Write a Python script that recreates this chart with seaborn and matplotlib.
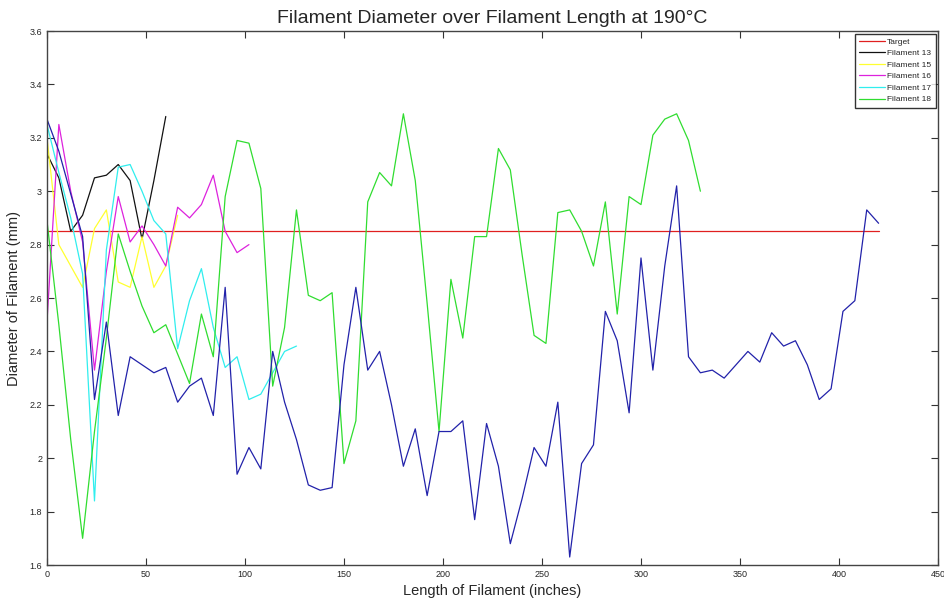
import matplotlib
matplotlib.use("Agg")
import matplotlib.pyplot as plt
import numpy as np
import pandas as pd
import seaborn as sns

sns.set_style("white")
plt.rcParams['font.family'] = ['Liberation Sans', 'DejaVu Sans']

# measurements every 6 inches along the filament
step = 6
target = 2.85
target_len = [0, 420]

fil13 = [3.14, 3.05, 2.85, 2.91, 3.05, 3.06, 3.10, 3.04, 2.82, 3.04, 3.28]
fil15 = [3.20, 2.80, 2.72, 2.64, 2.86, 2.93, 2.66, 2.64, 2.83, 2.64, 2.72, 2.91]
fil16 = [2.51, 3.25, 3.00, 2.81, 2.33, 2.70, 2.98, 2.81, 2.87, 2.80, 2.72, 2.94,
         2.90, 2.95, 3.06, 2.85, 2.77, 2.80]
fil17 = [3.25, 3.07, 2.90, 2.69, 1.84, 2.78, 3.09, 3.10, 3.00, 2.89, 2.84, 2.41,
         2.59, 2.71, 2.49, 2.34, 2.38, 2.22, 2.24, 2.32, 2.40, 2.42]
fil18 = [2.89, 2.50, 2.07, 1.70, 2.10, 2.45, 2.84, 2.70, 2.57, 2.47, 2.50, 2.39,
         2.28, 2.54, 2.38, 2.98, 3.19, 3.18, 3.01, 2.27, 2.49, 2.93, 2.61, 2.59,
         2.62, 1.98, 2.14, 2.96, 3.07, 3.02, 3.29, 3.04, 2.58, 2.10, 2.67, 2.45,
         2.83, 2.83, 3.16, 3.08, 2.76, 2.46, 2.43, 2.92, 2.93, 2.85, 2.72, 2.96,
         2.54, 2.98, 2.95, 3.21, 3.27, 3.29, 3.19, 3.00]
# blue trace, not listed in the legend
fil_extra = [3.27, 3.15, 2.99, 2.83, 2.22, 2.51, 2.16, 2.38, 2.35, 2.32, 2.34, 2.21,
             2.27, 2.30, 2.16, 2.64, 1.94, 2.04, 1.96, 2.40, 2.21, 2.07, 1.90, 1.88,
             1.89, 2.35, 2.64, 2.33, 2.40, 2.20, 1.97, 2.11, 1.86, 2.10, 2.10, 2.14,
             1.77, 2.13, 1.97, 1.68, 1.85, 2.04, 1.97, 2.21, 1.63, 1.98, 2.05, 2.55,
             2.44, 2.17, 2.75, 2.33, 2.72, 3.02, 2.38, 2.32, 2.33, 2.30, 2.35, 2.40,
             2.36, 2.47, 2.42, 2.44, 2.35, 2.22, 2.26, 2.55, 2.59, 2.93, 2.88]

names = ['Target', 'Filament 13', 'Filament 15', 'Filament 16', 'Filament 17', 'Filament 18']
colors = ['#e02020', '#111111', '#ffff30', '#dd22dd', '#30eeee', '#30dd30']
blue = '#2222aa'

frames = [pd.DataFrame({'length': target_len, 'diameter': [target, target], 'series': 'Target'})]
for name, vals in zip(names[1:], [fil13, fil15, fil16, fil17, fil18]):
    frames.append(pd.DataFrame({'length': np.arange(len(vals)) * step,
                                'diameter': vals, 'series': name}))
df = pd.concat(frames, ignore_index=True)

fig, ax = plt.subplots(figsize=(9.45, 6.0), dpi=100)
fig.subplots_adjust(left=0.0497, right=0.9926, bottom=0.0583, top=0.9483)

sns.lineplot(data=df, x='length', y='diameter', hue='series', hue_order=names,
             palette=dict(zip(names, colors)), estimator=None, sort=False,
             lw=0.9, ax=ax)
sns.lineplot(x=np.arange(len(fil_extra)) * step, y=fil_extra, color=blue,
             estimator=None, sort=False, lw=0.9, legend=False, ax=ax)

ax.set_xlim(0, 450)
ax.set_ylim(1.6, 3.6)
ax.set_xticks(np.arange(0, 451, 50))
ax.set_yticks(np.arange(1.6, 3.61, 0.2))
ax.yaxis.set_major_formatter(matplotlib.ticker.FormatStrFormatter('%g'))
ax.tick_params(direction='in', length=5, width=0.8, labelsize=6.5,
               top=True, right=True, bottom=True, left=True, color='#333333')
for sp in ax.spines.values():
    sp.set_color('#444444')
    sp.set_linewidth(1.0)

ax.set_title('Filament Diameter over Filament Length at 190°C', fontsize=14, pad=6)
ax.set_xlabel('Length of Filament (inches)', fontsize=10.5, labelpad=4)
ax.set_ylabel('Diameter of Filament (mm)', fontsize=10.5, labelpad=6)

handles, labels = ax.get_legend_handles_labels()
ax.legend(handles, labels, loc='upper right', fontsize=6, frameon=True,
          fancybox=False, edgecolor='black', handlelength=3.1, borderpad=0.5,
          labelspacing=0.45, handletextpad=0.3, borderaxespad=0.3)

fig.savefig('out.png', dpi=100)
